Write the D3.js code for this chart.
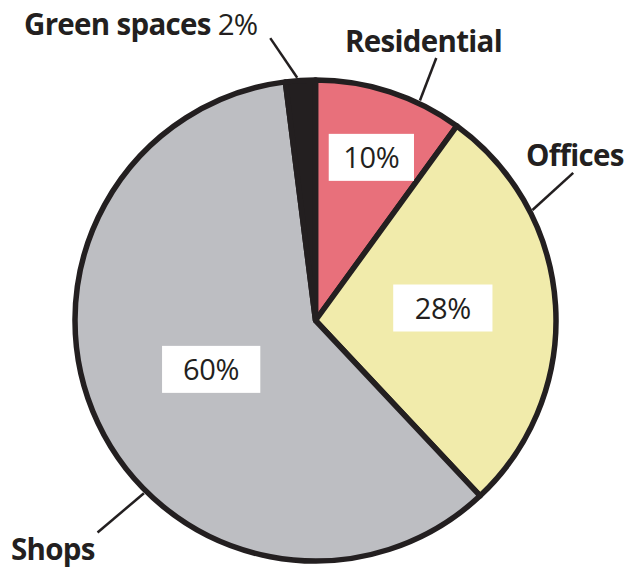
<!DOCTYPE html>
<html>
<head>
<meta charset="utf-8">
<script src="https://cdn.jsdelivr.net/npm/d3@7"></script>
<style>
  html, body { margin: 0; padding: 0; background: #fff; }
  svg { display: block; }
  text { font-family: "Open Sans", "Noto Sans", sans-serif; fill: #231f20; }
</style>
</head>
<body>
<svg id="chart" width="628" height="568"></svg>
<script>
const categories = ["Residential", "Offices", "Shops", "Green spaces"];
const values = [10, 28, 60, 2];
const valueLabels = ["10%", "28%", "60%", "2%"];
const colors = ["#e8707b", "#f1ebab", "#bdbec2", "#231f20"];

const W = 628, H = 568;
const cx = 315.5, cy = 320.5, R = 240.5;
const ink = "#231f20";

const svg = d3.select("#chart");
const g = svg.append("g").attr("transform", `translate(${cx},${cy})`);

const pie = d3.pie().sort(null).value(d => d)(values);
const arc = d3.arc().innerRadius(0).outerRadius(R);

g.selectAll("path.slice")
  .data(pie)
  .join("path")
  .attr("class", "slice")
  .attr("d", arc)
  .attr("fill", (d, i) => colors[i])
  .attr("stroke", ink)
  .attr("stroke-width", 5.5)
  .attr("stroke-linejoin", "round");

const pol = (deg, r) => { const a = deg * Math.PI / 180; return [r * Math.sin(a), -r * Math.cos(a)]; };

// inner value boxes (layout: angle offset from slice middle, radius fraction, padding)
const boxLayout = [
  { da: 0.9, f: 0.717, pad: 29 },
  { da: -2.0, f: 0.532, pad: 43 },
  { da: 0.1, f: 0.479, pad: 42 },
  null
];
pie.forEach((d, i) => {
  const L = boxLayout[i];
  if (!L) return;
  const midDeg = (d.startAngle + d.endAngle) / 2 * 180 / Math.PI;
  const [x, y] = pol(midDeg + L.da, R * L.f);
  const grp = g.append("g").attr("transform", `translate(${x},${y})`);
  const rect = grp.append("rect").attr("fill", "#fff");
  const t = grp.append("text")
    .attr("text-anchor", "middle")
    .attr("dy", "0.38em")
    .attr("font-size", 29)
    .attr("letter-spacing", -0.3)
    .text(valueLabels[i]);
  const bb = t.node().getBBox();
  const bw = bb.width + L.pad, bh = 47;
  rect.attr("x", -bw / 2).attr("y", -bh / 2).attr("width", bw).attr("height", bh);
});

// leader lines: inner point (angle, radius) -> outer point (angle, radius)
const leaders = [
  { a0: 25.4, r0: R + 3, a1: 24.7, r1: 289 },
  { a0: 63.0, r0: R + 3, a1: 60.2, r1: 297 },
  { a0: 224.8, r0: R + 3, a1: 225.8, r1: 304 },
  { a0: 355.7, r0: R + 3, a1: 350.9, r1: 286 }
];
leaders.forEach((L) => {
  const [x0, y0] = pol(L.a0, L.r0);
  const [x1, y1] = pol(L.a1, L.r1);
  g.append("line")
    .attr("x1", x0).attr("y1", y0).attr("x2", x1).attr("y2", y1)
    .attr("stroke", ink).attr("stroke-width", 2.5);
});

const labelPos = [
  { x: 345, y: 52 },
  { x: 526, y: 166 },
  { x: 11, y: 560 },
  { x: 24, y: 35 }
];
categories.forEach((c, i) => {
  const p = labelPos[i];
  const t = svg.append("text")
    .attr("x", p.x).attr("y", p.y)
    .attr("text-anchor", "start")
    .attr("font-size", 29.5)
    .attr("letter-spacing", -0.7);
  t.append("tspan").attr("font-weight", "bold").text(c);
  if (i === 3) {
    t.append("tspan").attr("font-weight", "normal").text(" " + valueLabels[i]);
  }
});
</script>
</body>
</html>
